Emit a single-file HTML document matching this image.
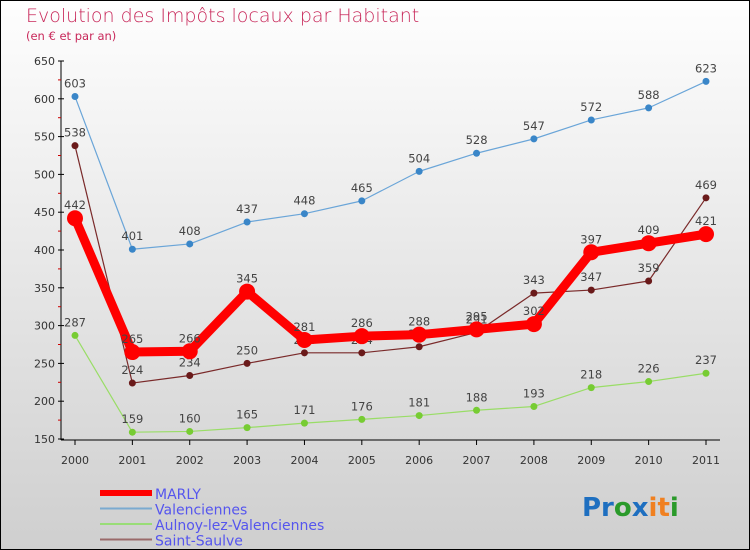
<!DOCTYPE html>
<html><head><meta charset="utf-8"><style>
body{margin:0;width:750px;height:550px;overflow:hidden}
#c{position:absolute;left:0;top:0;width:748px;height:548px;border:1px solid #000;background:linear-gradient(#fefefe,#cfcfcf)}
text{font-family:"DejaVu Sans","Liberation Sans",sans-serif}
</style></head><body>
<div id="c">
<svg id="s" width="750" height="550" style="position:absolute;left:-1px;top:-1px">
<text x="26" y="22" font-size="19" fill="#c8285a" font-weight="200">Evolution des Impôts locaux par Habitant</text>
<text x="26" y="40" font-size="11.5" fill="#c8285a">(en € et par an)</text>
<g id="axes"></g><g id="series"></g>
<g id="legend"></g>
<text x="582" y="516" font-size="26" font-weight="bold"><tspan fill="#1e6fc0">Pr</tspan><tspan fill="#2a9a2a">o</tspan><tspan fill="#1e6fc0">x</tspan><tspan fill="#f08020">it</tspan><tspan fill="#2a9a2a">i</tspan></text>
</svg></div>
<script>
const years=[2000,2001,2002,2003,2004,2005,2006,2007,2008,2009,2010,2011];
const yTicks=[150,200,250,300,350,400,450,500,550,600,650];
const marly=[442,265,266,345,281,286,288,295,302,397,409,421];
const valenciennes=[603,401,408,437,448,465,504,528,547,572,588,623];
const aulnoy=[287,159,160,165,171,176,181,188,193,218,226,237];
const saintSaulve=[538,224,234,250,264,264,272,291,343,347,359,469];
const NS='http://www.w3.org/2000/svg';
const X=i=>75+i*(706-75)/11;
const Y=v=>439-(v-150)*(378/500);
function mk(t,a,p){const e=document.createElementNS(NS,t);for(const k in a)e.setAttribute(k,a[k]);p.appendChild(e);return e;}
const ax=document.getElementById('axes');
const yl=mk('line',{x1:61,y1:61,x2:61,y2:440,stroke:'#000'},ax);


yTicks.forEach((v,i)=>{
  mk('line',{x1:58,x2:64,y1:Y(v),y2:Y(v),stroke:'#000'},ax);
  if(i<yTicks.length-1)mk('line',{x1:58,x2:61,y1:Y(v+25),y2:Y(v+25),stroke:'#c00'},ax);
  const t=mk('text',{x:55,y:Y(v)+4,'font-size':11,fill:'#333','text-anchor':'end'},ax);t.textContent=v;
  
  
});
const xl=mk('line',{x1:61,y1:440,x2:720,y2:440,stroke:'#000'},ax);


years.forEach((y,i)=>{
  mk('line',{x1:X(i),x2:X(i),y1:440,y2:445,stroke:'#000'},ax);
  const t=mk('text',{x:X(i),y:464,'font-size':11,fill:'#333','text-anchor':'middle'},ax);t.textContent=y;
  
  
});
const sg=document.getElementById('series');
const defs=[
 {d:aulnoy,c:'#99dd66',m:'#77cc33',w:1.2,r:3.5,n:'aulnoy'},
 {d:valenciennes,c:'#6aa5d8',m:'#3a86c8',w:1.2,r:3.5,n:'valenciennes'},
 {d:saintSaulve,c:'#7a2a2a',m:'#6a1a1a',w:1.2,r:3.5,n:'saint-saulve'},
 {d:marly,c:'#ff0000',m:'#ff0000',w:9,r:8,n:'marly'}];
defs.forEach(s=>{
  const g=mk('g',{},sg);
  
  
  const p=mk('polyline',{points:s.d.map((v,i)=>X(i)+','+Y(v)).join(' '),fill:'none',stroke:s.c,'stroke-width':s.w,'stroke-linejoin':'round'},g);
  s.d.forEach((v,i)=>{
    const c=mk('circle',{cx:X(i),cy:Y(v),r:s.r,fill:s.m},g);
    
    
    const t=mk('text',{x:X(i),y:Y(v)-9,'font-size':11.5,fill:'#444','text-anchor':'middle'},g);t.textContent=v;
    
    
  });
});
const lg=document.getElementById('legend');
const items=[['MARLY','#f00',6],['Valenciennes','#7aaad0',2],['Aulnoy-lez-Valenciennes','#99dd77',2],['Saint-Sauvle','#9a6a6a',2]];
items[3][0]='Saint-Saulve';
items.forEach((it,i)=>{
  const y=493+i*15.5;
  const g=mk('g',{},lg);
  
  
  mk('line',{x1:100,x2:152,y1:y,y2:y,stroke:it[1],'stroke-width':it[2]},g);
  const t=mk('text',{x:155,y:y+6,'font-size':14,fill:'#5555ee'},g);t.textContent=it[0];
});
</script>
</body></html>
